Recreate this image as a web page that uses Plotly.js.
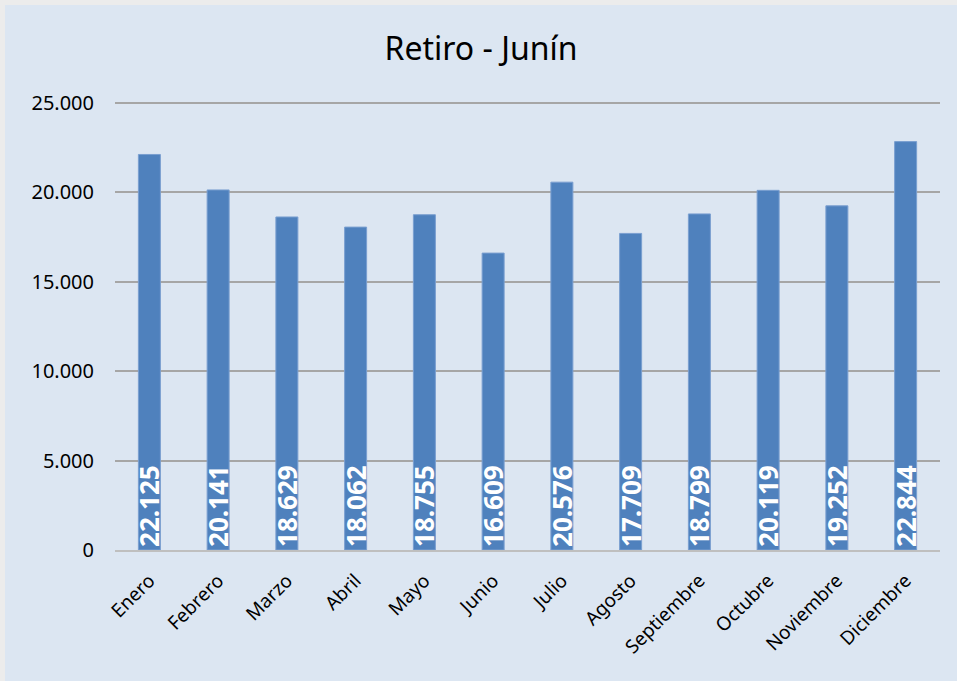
<!DOCTYPE html>
<html><head><meta charset="utf-8">
<script src="https://cdn.plot.ly/plotly-3.0.1.min.js"></script>
<style>
html,body{margin:0;padding:0;background:#ececec;width:957px;height:681px;overflow:hidden}
#chart{position:absolute;left:5px;top:5px;width:952px;height:676px}
</style></head>
<body><div id="chart"></div>
<script>
const months = ["Enero","Febrero","Marzo","Abril","Mayo","Junio","Julio","Agosto","Septiembre","Octubre","Noviembre","Diciembre"];
const values = [22125,20141,18629,18062,18755,16609,20576,17709,18799,20119,19252,22844];
const yTicks = [0,5000,10000,15000,20000,25000];

const trace = {
  type:'bar', x:months, y:values,
  marker:{color:'#4f81bd', line:{color:'#7a9fd0', width:1}},
  texttemplate:'%{y:,d}', textposition:'inside', insidetextanchor:'start',
  textangle:-90, constraintext:'none',
  textfont:{family:'"Noto Sans", "Open Sans", sans-serif', size:26, color:'#ffffff', weight:'bold'},
  hoverinfo:'none'
};
const layout = {
  width:952, height:676,
  paper_bgcolor:'#dce6f2', plot_bgcolor:'#dce6f2',
  separators:',.',
  margin:{l:110, r:17, t:97, b:131},
  title:{text:'Retiro - Junín', x:0.5, xanchor:'center', y:0.935, yanchor:'middle',
         font:{family:'"Noto Sans", sans-serif', size:32, color:'#000'}},
  bargap:0.68,
  showlegend:false,
  xaxis:{tickangle:-45, tickfont:{family:'"Noto Sans", sans-serif', size:19, color:'#000'},
         showline:true, linecolor:'#bfbfbf', linewidth:2, ticks:'outside', ticklen:10,
         tickcolor:'rgba(0,0,0,0)', showgrid:false},
  yaxis:{range:[0,25060], tickvals:yTicks, tickformat:',d',
         tickfont:{family:'"Noto Sans", sans-serif', size:20, color:'#000'},
         ticklabelstandoff:20,
         gridcolor:'#a6a6a6', gridwidth:2, zeroline:false, showline:false, ticks:'', ticklen:0,
         automargin:false}
};
Plotly.newPlot('chart',[trace],layout,{displayModeBar:false,staticPlot:true});
</script></body></html>
